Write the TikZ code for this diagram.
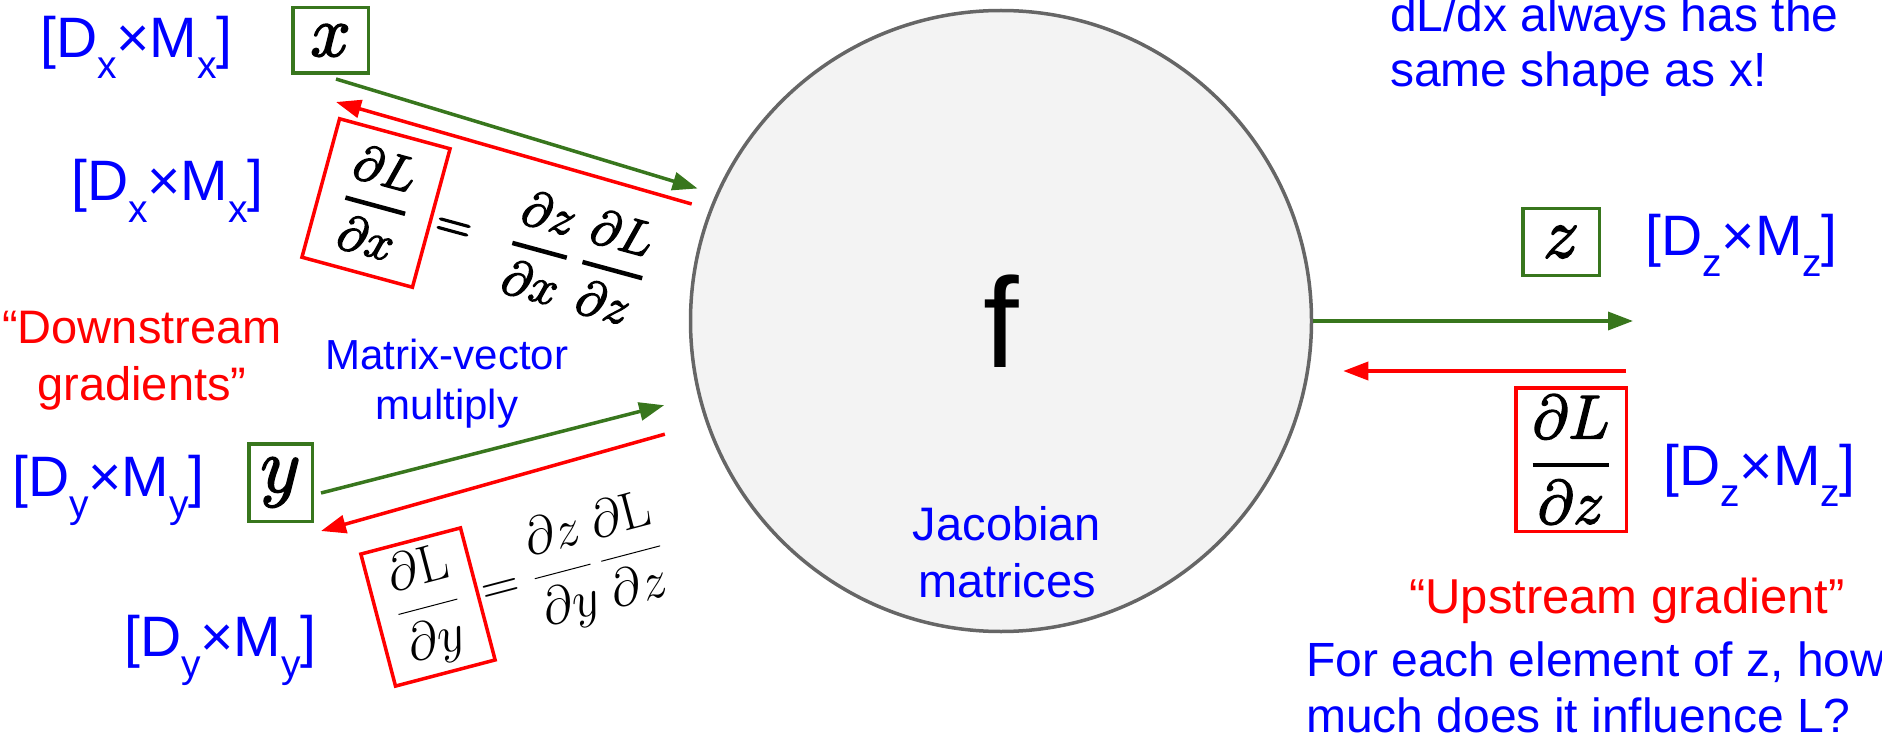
\documentclass[tikz,border=0pt]{standalone}
\usepackage{fix-cm}
\usepackage{amsmath}
\usepackage[no-math]{fontspec}
\setmainfont{Liberation Sans}
\usetikzlibrary{arrows.meta, calc}
\definecolor{vargreen}{RGB}{56,118,29}
\definecolor{gradred}{RGB}{255,0,0}
\definecolor{dimblue}{RGB}{0,0,255}
\definecolor{fgray}{RGB}{243,243,243}
\definecolor{fborder}{RGB}{102,102,102}
\newcommand{\dimsub}[1]{\raisebox{-21pt}{\fontsize{39}{39}\selectfont #1}}
\newcommand{\dimof}[1]{[D\dimsub{#1}×M\dimsub{#1}]}
\newcommand{\bigmath}[2]{{\fontsize{#1}{#1}\selectfont$#2$}}
\newcommand{\thickfrac}[2]{\genfrac{}{}{4.5pt}{0}{#1}{#2}}
% heavier strokes for the pasted formula images
\newcommand{\heavy}[2]{\special{pdf:literal direct 2 Tr #1 w 1 j}#2\special{pdf:literal direct 0 Tr 0 j}}
\tikzset{
  dims/.style    = {text=dimblue, font=\fontsize{57}{57}\selectfont, inner sep=0pt, anchor=base west},
  varbox/.style  = {draw=vargreen, line width=3.5pt, fill=white, inner sep=0pt},
  gradbox/.style = {draw=gradred, line width=3.5pt, fill=white, inner sep=0pt},
  fwd/.style     = {-{Triangle[length=25pt,width=18pt]}, line width=3.5pt, vargreen},
  bwd/.style     = {-{Triangle[length=25pt,width=18pt]}, line width=3.5pt, gradred},
  note/.style    = {inner sep=0pt, align=center},
}

\begin{document}
\begin{tikzpicture}[x=1pt, y=-1pt]
\useasboundingbox (0,0) rectangle (1882,746);

% the function node
\node[circle, draw=fborder, fill=fgray, line width=3.5pt, minimum size=621pt,
      inner sep=0pt, font=\fontsize{128}{128}\selectfont] (f) at (1001,321) {f};
\node[note, text=dimblue, font=\fontsize{47}{57}\selectfont, anchor=north] (jac) at (1007,506) {Jacobian\\matrices};

% inputs and output
\node[varbox, minimum width=75.5pt, minimum height=65.5pt] (xbox) at (330.5,40.5) {\heavy{1.8}{\bigmath{72}{x}}};
\node[varbox, minimum width=63.5pt, minimum height=77.5pt] (ybox) at (280.5,482.5) {\heavy{1.8}{\bigmath{78}{y}}};
\node[varbox, minimum width=76.5pt, minimum height=66.5pt] (zbox) at (1561,242) {\heavy{1.8}{\bigmath{72}{z}}};

% gradients
\node[gradbox, rotate=-15.2, minimum width=114.5pt, minimum height=143.5pt] (dLdx) at (376,203)
  {\heavy{1.4}{\bigmath{50}{\thickfrac{\partial L}{\partial x}}}};
\node[rotate=-15.2, anchor=west, inner sep=0pt] (chainx) at (dLdx.east)
  {\hspace{4pt}\heavy{1.4}{\bigmath{50}{=\;\;\thickfrac{\partial z}{\partial x}\;\thickfrac{\partial L}{\partial z}}}};
\node[gradbox, rotate=14.7, minimum width=103pt, minimum height=136.5pt] (dLdy) at (428,607)
  {\bigmath{53}{\dfrac{\partial\mathrm{L}}{\partial y}}};
\node[rotate=14.7, anchor=west, inner sep=0pt] (chainy) at (dLdy.east)
  {\hspace{3pt}\bigmath{53}{=\dfrac{\partial z}{\partial y}\,\dfrac{\partial\mathrm{L}}{\partial z}}};
\node[gradbox, minimum width=110.5pt, minimum height=143.5pt] (dLdz) at (1571,459.5)
  {\heavy{1.5}{\bigmath{62}{\thickfrac{\partial L}{\partial z}}}};

% shapes
\node[dims] (xdim) at (40,58) {\dimof{x}};
\node[dims] (dxdim) at (71,201) {\dimof{x}};
\node[dims] (ydim) at (12,496) {\dimof{y}};
\node[dims] (dydim) at (124,656) {\dimof{y}};
\node[dims] (zdim) at (1645,255) {\dimof{z}};
\node[dims] (dzdim) at (1663,485) {\dimof{z}};

% notes
\node[note, text=gradred, font=\fontsize{47}{57}\selectfont, anchor=north] (down) at (142,311) {“Downstream\\gradients”};
\node[note, text=dimblue, font=\fontsize{42}{50}\selectfont, anchor=north] (mv) at (447,339) {Matrix-vector\\multiply};
\node[note, text=dimblue, font=\fontsize{48}{55}\selectfont, anchor=north west, align=left] (shape) at (1390,-3)
  {dL/dx always has the\\same shape as x!};
\node[text=gradred, font=\fontsize{49}{49}\selectfont, anchor=base east, inner sep=0pt] (up) at (1845,613) {“Upstream gradient”};
\node[note, text=dimblue, font=\fontsize{48}{56}\selectfont, anchor=north west, align=left] (each) at (1306,642)
  {For each element of z, how\\much does it influence L?};

% arrows
\coordinate (zout) at (1633,321);
\coordinate (zin) at (1626,371);
\draw[fwd, shorten >=19pt] ($(xbox.south)+(5.5,4)$) -- (f.156.1);
\draw[bwd, shorten <=18.5pt] (f.159.1) -- ($(xbox.south)+(5.5,27)$);
\draw[fwd, shorten >=35pt] ($(ybox.east)+(7,10.5)$) -- (f.194.5);
\draw[bwd, shorten <=42.5pt] (f.199.8) -- ($(ybox.south east)+(7,8)$);
\draw[fwd] (f.east) -- (zout);
\draw[bwd, shorten >=30pt] (zin) -- (zin -| f.east);

\end{tikzpicture}
\end{document}
